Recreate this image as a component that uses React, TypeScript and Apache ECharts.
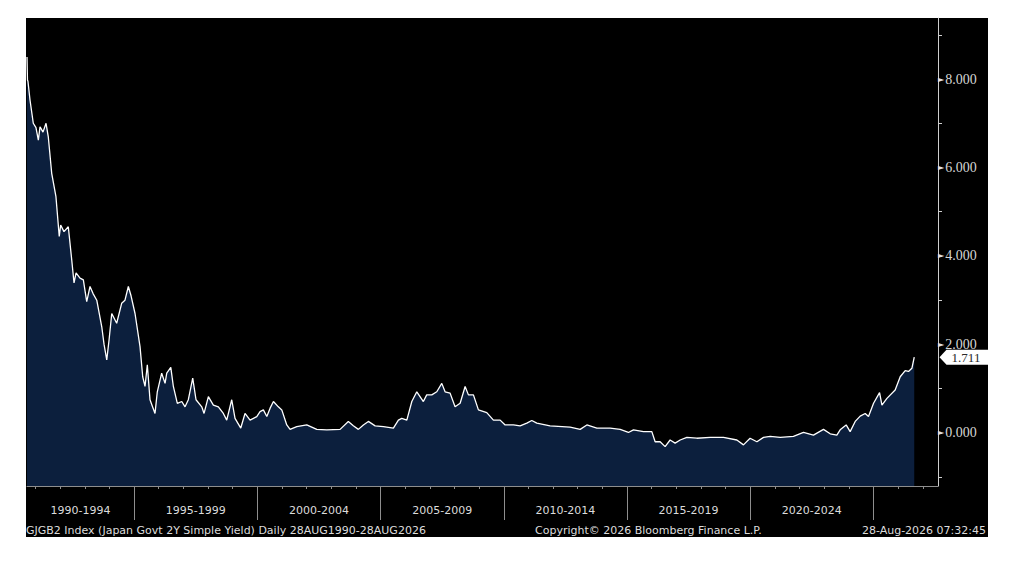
import React, { useEffect, useRef } from "react";
import * as echarts from "echarts";

const dates = [
  "1990-08-28", "1990-09-04", "1990-09-11", "1990-10-12", "1990-11-29", "1991-01-08", "1991-02-12", "1991-03-09", "1991-04-22", "1991-06-06",
  "1991-07-09", "1991-08-29", "1991-10-31", "1991-12-19", "1992-01-09", "1992-02-27", "1992-05-01", "1992-06-21", "1992-07-25", "1992-08-24",
  "1992-10-22", "1992-12-10", "1993-01-29", "1993-03-19", "1993-05-03", "1993-06-27", "1993-09-09", "1993-10-13", "1993-11-22", "1993-12-26",
  "1994-02-04", "1994-04-18", "1994-07-01", "1994-08-19", "1994-10-08", "1994-11-17", "1995-01-15", "1995-03-30", "1995-05-09", "1995-06-12",
  "1995-07-16", "1995-08-25", "1995-11-07", "1995-12-11", "1996-02-14", "1996-04-04", "1996-04-29", "1996-06-28", "1996-08-05", "1996-10-03",
  "1996-12-08", "1997-01-25", "1997-03-15", "1997-05-19", "1997-07-07", "1997-09-30", "1997-11-03", "1998-01-06", "1998-03-21", "1998-06-03",
  "1998-08-16", "1998-10-05", "1998-12-18", "1999-02-05", "1999-05-01", "1999-07-03", "1999-09-16", "1999-12-24", "2000-02-11", "2000-03-31",
  "2000-05-21", "2000-07-09", "2000-08-27", "2000-11-08", "2000-12-29", "2001-03-13", "2001-05-01", "2001-08-08", "2002-01-03", "2002-05-31",
  "2002-10-27", "2003-05-12", "2003-09-11", "2003-11-24", "2004-02-07", "2004-04-21", "2004-07-04", "2004-10-12", "2005-02-12", "2005-07-10",
  "2005-09-22", "2005-11-11", "2006-01-25", "2006-04-09", "2006-06-22", "2006-09-27", "2006-11-16", "2007-01-30", "2007-04-14", "2007-06-27",
  "2007-08-15", "2007-10-28", "2008-01-10", "2008-03-25", "2008-06-07", "2008-07-26", "2008-10-08", "2008-12-21", "2009-04-24", "2009-07-31",
  "2009-11-08", "2010-01-21", "2010-05-24", "2010-08-31", "2010-12-08", "2011-02-20", "2011-05-05", "2011-11-18", "2012-09-10", "2013-02-06",
  "2013-05-16", "2013-10-11", "2014-04-26", "2014-09-22", "2015-01-22", "2015-04-07", "2015-09-02", "2016-01-04", "2016-02-22", "2016-05-06",
  "2016-07-19", "2016-10-01", "2016-12-14", "2017-02-27", "2017-06-06", "2017-11-01", "2018-05-18", "2018-12-01", "2019-06-17", "2019-09-23",
  "2019-12-30", "2020-04-09", "2020-07-16", "2020-10-23", "2021-03-21", "2021-10-03", "2022-02-28", "2022-07-26", "2022-12-22", "2023-03-31",
  "2023-07-08", "2023-08-26", "2023-11-23", "2024-01-21", "2024-04-05", "2024-06-18", "2024-08-31", "2024-10-19", "2025-01-02", "2025-04-01",
  "2025-05-06", "2025-07-19", "2025-11-18", "2026-02-01", "2026-04-16", "2026-06-04", "2026-07-24", "2026-08-28",
];

const yields = [
  8.5, 7.98, 7.95, 7.52, 7.0, 6.9, 6.62, 6.92, 6.8, 7.0,
  6.7, 5.87, 5.34, 4.44, 4.7, 4.55, 4.66, 3.91, 3.39, 3.62,
  3.5, 3.46, 2.97, 3.31, 3.15, 3.0, 2.4, 2.0, 1.65, 2.1,
  2.7, 2.48, 2.93, 3.0, 3.31, 3.1, 2.7, 1.95, 1.27, 1.05,
  1.54, 0.75, 0.44, 0.93, 1.35, 1.12, 1.35, 1.48, 1.05, 0.67,
  0.71, 0.59, 0.75, 1.24, 0.75, 0.59, 0.44, 0.82, 0.63, 0.59,
  0.44, 0.29, 0.75, 0.33, 0.11, 0.44, 0.29, 0.37, 0.48, 0.52,
  0.37, 0.56, 0.71, 0.59, 0.52, 0.18, 0.08, 0.14, 0.18, 0.08,
  0.07, 0.08, 0.26, 0.16, 0.08, 0.18, 0.26, 0.16, 0.14, 0.11,
  0.29, 0.33, 0.29, 0.71, 0.93, 0.71, 0.86, 0.86, 0.93, 1.12,
  0.93, 0.9, 0.59, 0.67, 1.05, 0.86, 0.86, 0.52, 0.46, 0.29,
  0.29, 0.18, 0.18, 0.16, 0.22, 0.28, 0.22, 0.16, 0.13, 0.08,
  0.18, 0.11, 0.11, 0.08, 0.01, 0.07, 0.03, 0.03, -0.2, -0.2,
  -0.31, -0.16, -0.23, -0.16, -0.1, -0.12, -0.1, -0.1, -0.16, -0.27,
  -0.12, -0.2, -0.1, -0.08, -0.1, -0.08, 0.01, -0.05, 0.08, -0.02,
  -0.05, 0.07, 0.18, 0.03, 0.26, 0.38, 0.44, 0.37, 0.67, 0.91,
  0.63, 0.78, 0.97, 1.27, 1.41, 1.39, 1.46, 1.711,
];

const periodLabels = ["1990-1994", "1995-1999", "2000-2004", "2005-2009", "2010-2014", "2015-2019", "2020-2024"];
const periodStartYears = [1990, 1995, 2000, 2005, 2010, 2015, 2020, 2025];
const yLabelValues = [0, 2, 4, 6, 8];
const yTickValues = [-1, 0, 1, 2, 3, 4, 5, 6, 7, 8, 9];
const xStart = "1990-08-28";
const xEnd = "2027-08-15";
const yMin = -1.2;
const yMax = 9.38;

const footerLeft = "GJGB2 Index (Japan Govt 2Y Simple Yield) Daily 28AUG1990-28AUG2026";
const footerMid = "Copyright\u00A9 2026 Bloomberg Finance L.P.";
const footerRight = "28-Aug-2026 07:32:45";

export default function App() {
  const ref = useRef<HTMLDivElement>(null);

  useEffect(() => {
    if (!ref.current) return;
    const chart = echarts.init(ref.current, undefined, { renderer: "svg" });

    const xMin = Date.parse(xStart);
    const xMax = Date.parse(xEnd);
    const n = Math.min(dates.length, yields.length);
    const seriesData: [number, number][] = [];
    for (let i = 0; i < n; i++) seriesData.push([Date.parse(dates[i]), yields[i]]);

    const yearTicks: number[] = [];
    for (let y = 1991; y <= 2027; y++) yearTicks.push(Date.UTC(y, 0, 1));
    const majorTicks = periodStartYears.slice(1).map((y) => Date.UTC(y, 0, 1));
    const labelPos = periodLabels.map((_, i) => {
      const a = Math.max(Date.UTC(periodStartYears[i], 0, 1), xMin);
      const b = Date.UTC(periodStartYears[i + 1], 0, 1);
      return (a + b) / 2;
    });

    const axisGray = "#8e8e8e";
    const textGray = "#dcdcdc";
    const uiFont = "'DejaVu Sans', Verdana, sans-serif";
    const last = seriesData[seriesData.length - 1];

    chart.setOption({
      animation: false,
      backgroundColor: "#ffffff",
      graphic: [
        {
          type: "rect",
          z: -100,
          silent: true,
          shape: { x: 26, y: 18, width: 962, height: 519 },
          style: { fill: "#000000" },
        },
        {
          type: "text",
          x: 26,
          y: 530,
          silent: true,
          style: { text: footerLeft, fill: textGray, fontFamily: uiFont, fontSize: 11, verticalAlign: "middle", textVerticalAlign: "middle" },
        },
        {
          type: "text",
          x: 535,
          y: 530,
          silent: true,
          style: { text: footerMid, fill: textGray, fontFamily: uiFont, fontSize: 11, verticalAlign: "middle", textVerticalAlign: "middle" },
        },
        {
          type: "text",
          x: 986,
          y: 530,
          silent: true,
          style: { text: footerRight, fill: textGray, fontFamily: uiFont, fontSize: 11, align: "right", textAlign: "right", verticalAlign: "middle", textVerticalAlign: "middle" },
        },
      ],
      grid: { left: 27, right: 86, top: 18, bottom: 76, containLabel: false },
      xAxis: [
        {
          type: "value",
          min: xMin,
          max: xMax,
          axisLine: { show: true, onZero: false, lineStyle: { color: axisGray, width: 1 } },
          axisTick: { show: true, customValues: yearTicks, length: 3, lineStyle: { color: axisGray } },
          axisLabel: {
            show: true,
            customValues: labelPos,
            margin: 19,
            color: textGray,
            fontFamily: uiFont,
            fontSize: 11,
            formatter: (v: number) => {
              const i = labelPos.findIndex((p) => Math.abs(p - v) < 86400000);
              return i >= 0 ? periodLabels[i] : "";
            },
          },
          splitLine: { show: false },
        },
        {
          type: "value",
          min: xMin,
          max: xMax,
          position: "bottom",
          axisLine: { show: false, onZero: false },
          axisTick: { show: true, customValues: majorTicks, length: 34, lineStyle: { color: axisGray } },
          axisLabel: { show: false },
          splitLine: { show: false },
        },
      ],
      yAxis: {
        type: "value",
        position: "right",
        min: yMin,
        max: yMax,
        axisLine: { show: true, onZero: false, lineStyle: { color: "#cfcfcf" } },
        axisTick: { show: true, customValues: yTickValues, length: 4, lineStyle: { color: "#cfcfcf" } },
        axisLabel: {
          show: true,
          customValues: yLabelValues,
          margin: 0,
          formatter: (v: number) => `{t|\u25BA}{v|${v.toFixed(3)}}`,
          rich: {
            t: { fontSize: 8, color: "#e0e0e0", fontFamily: "'DejaVu Sans', sans-serif", padding: [0, 1, 0, 0] },
            v: { fontSize: 14, color: "#d6d6d6", fontFamily: "'Liberation Serif', 'DejaVu Serif', serif" },
          },
        },
        splitLine: { show: false },
      },
      series: [
        {
          type: "line",
          xAxisIndex: 0,
          data: seriesData,
          showSymbol: false,
          symbol: "none",
          lineStyle: { color: "#ffffff", width: 1.3 },
          areaStyle: { color: "#0c1f3d", opacity: 1, origin: "start" },
          markPoint: {
            silent: true,
            symbol: "path://M0,7L7,0L49,0L49,14L7,14Z",
            symbolSize: [49, 15],
            symbolOffset: [26, 0],
            itemStyle: { color: "#ffffff" },
            label: {
              show: true,
              position: "inside",
              color: "#2a2a2a",
              fontFamily: "'Liberation Serif', 'DejaVu Serif', serif",
              fontSize: 13,
              offset: [2, 0],
              formatter: (p: any) => Number(p.value).toFixed(3),
            },
            data: [{ coord: [xMax, last[1]], value: last[1] }],
          },
        },
      ],
    });

    return () => chart.dispose();
  }, []);

  return (
    <div
      ref={ref}
      style={{ position: "fixed", left: 0, top: 0, width: 1024, height: 562 }}
    />
  );
}
